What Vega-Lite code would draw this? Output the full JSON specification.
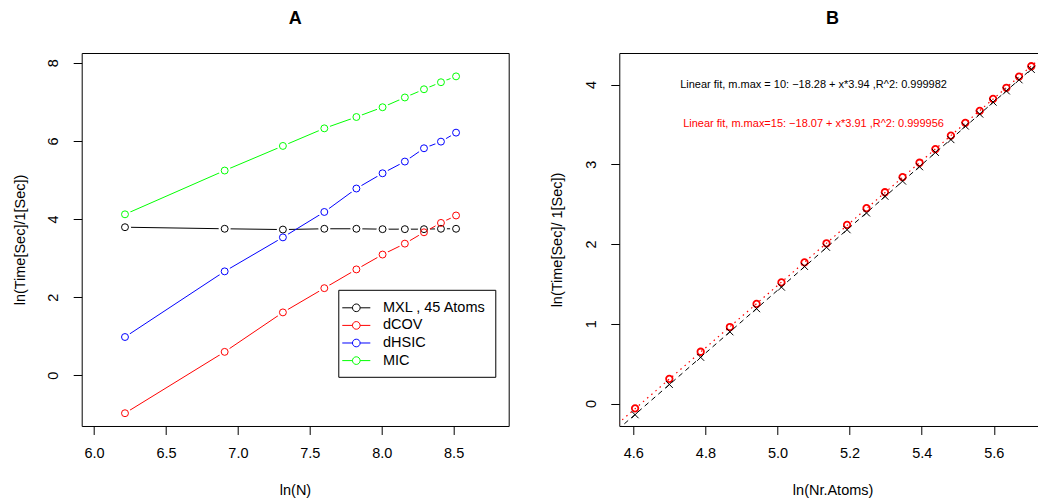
{
  "$schema": "https://vega.github.io/schema/vega-lite/v6.json",
  "padding": {"left": 11.7, "top": 9, "right": 0, "bottom": 0},
  "background": "white",
  "spacing": 39.6,
  "resolve": {"scale": {"color": "independent"}, "legend": {"color": "independent"}},
  "datasets": {
    "a": [
      {"method": "MXL , 45 Atoms", "lnN": 6.215, "time": 3.79},
      {"method": "MXL , 45 Atoms", "lnN": 6.908, "time": 3.75},
      {"method": "MXL , 45 Atoms", "lnN": 7.313, "time": 3.73},
      {"method": "MXL , 45 Atoms", "lnN": 7.601, "time": 3.75},
      {"method": "MXL , 45 Atoms", "lnN": 7.824, "time": 3.75},
      {"method": "MXL , 45 Atoms", "lnN": 8.006, "time": 3.74},
      {"method": "MXL , 45 Atoms", "lnN": 8.161, "time": 3.74},
      {"method": "MXL , 45 Atoms", "lnN": 8.294, "time": 3.74},
      {"method": "MXL , 45 Atoms", "lnN": 8.412, "time": 3.75},
      {"method": "MXL , 45 Atoms", "lnN": 8.517, "time": 3.75},
      {"method": "dCOV", "lnN": 6.215, "time": -0.97},
      {"method": "dCOV", "lnN": 6.908, "time": 0.60},
      {"method": "dCOV", "lnN": 7.313, "time": 1.61},
      {"method": "dCOV", "lnN": 7.601, "time": 2.23},
      {"method": "dCOV", "lnN": 7.824, "time": 2.71},
      {"method": "dCOV", "lnN": 8.006, "time": 3.09},
      {"method": "dCOV", "lnN": 8.161, "time": 3.37},
      {"method": "dCOV", "lnN": 8.294, "time": 3.66},
      {"method": "dCOV", "lnN": 8.412, "time": 3.90},
      {"method": "dCOV", "lnN": 8.517, "time": 4.09},
      {"method": "dHSIC", "lnN": 6.215, "time": 0.98},
      {"method": "dHSIC", "lnN": 6.908, "time": 2.66},
      {"method": "dHSIC", "lnN": 7.313, "time": 3.53},
      {"method": "dHSIC", "lnN": 7.601, "time": 4.18},
      {"method": "dHSIC", "lnN": 7.824, "time": 4.78},
      {"method": "dHSIC", "lnN": 8.006, "time": 5.17},
      {"method": "dHSIC", "lnN": 8.161, "time": 5.47},
      {"method": "dHSIC", "lnN": 8.294, "time": 5.81},
      {"method": "dHSIC", "lnN": 8.412, "time": 5.98},
      {"method": "dHSIC", "lnN": 8.517, "time": 6.21},
      {"method": "MIC", "lnN": 6.215, "time": 4.12},
      {"method": "MIC", "lnN": 6.908, "time": 5.24},
      {"method": "MIC", "lnN": 7.313, "time": 5.87},
      {"method": "MIC", "lnN": 7.601, "time": 6.32},
      {"method": "MIC", "lnN": 7.824, "time": 6.61},
      {"method": "MIC", "lnN": 8.006, "time": 6.86},
      {"method": "MIC", "lnN": 8.161, "time": 7.11},
      {"method": "MIC", "lnN": 8.294, "time": 7.32},
      {"method": "MIC", "lnN": 8.412, "time": 7.50},
      {"method": "MIC", "lnN": 8.517, "time": 7.65}
    ],
    "b": [
      {"lnAtoms": 4.605, "t10": -0.14, "t15": -0.06},
      {"lnAtoms": 4.700, "t10": 0.24, "t15": 0.31},
      {"lnAtoms": 4.787, "t10": 0.58, "t15": 0.65},
      {"lnAtoms": 4.868, "t10": 0.90, "t15": 0.96},
      {"lnAtoms": 4.942, "t10": 1.19, "t15": 1.25},
      {"lnAtoms": 5.011, "t10": 1.46, "t15": 1.52},
      {"lnAtoms": 5.075, "t10": 1.72, "t15": 1.77},
      {"lnAtoms": 5.136, "t10": 1.96, "t15": 2.01},
      {"lnAtoms": 5.193, "t10": 2.18, "t15": 2.24},
      {"lnAtoms": 5.247, "t10": 2.39, "t15": 2.45},
      {"lnAtoms": 5.298, "t10": 2.60, "t15": 2.65},
      {"lnAtoms": 5.347, "t10": 2.79, "t15": 2.84},
      {"lnAtoms": 5.394, "t10": 2.97, "t15": 3.02},
      {"lnAtoms": 5.438, "t10": 3.15, "t15": 3.19},
      {"lnAtoms": 5.481, "t10": 3.31, "t15": 3.36},
      {"lnAtoms": 5.521, "t10": 3.48, "t15": 3.52},
      {"lnAtoms": 5.561, "t10": 3.63, "t15": 3.67},
      {"lnAtoms": 5.598, "t10": 3.78, "t15": 3.82},
      {"lnAtoms": 5.635, "t10": 3.92, "t15": 3.96},
      {"lnAtoms": 5.670, "t10": 4.06, "t15": 4.10},
      {"lnAtoms": 5.704, "t10": 4.19, "t15": 4.23}
    ],
    "fits": [
      {"fit": "m.max=10", "x": 4.5, "y": -0.55},
      {"fit": "m.max=10", "x": 5.8, "y": 4.572},
      {"fit": "m.max=15", "x": 4.5, "y": -0.475},
      {"fit": "m.max=15", "x": 5.8, "y": 4.608}
    ],
    "notes": [
      {"fit": "m.max=10", "x": 5.1, "y": 4.0, "label": "Linear fit, m.max = 10: \u221218.28 + x*3.94 ,R^2: 0.999982"},
      {"fit": "m.max=15", "x": 5.1, "y": 3.5, "label": "Linear fit, m.max=15: \u221218.07 + x*3.91 ,R^2: 0.999956"}
    ]
  },
  "config": {
    "font": "Liberation Sans",
    "view": {"stroke": null},
    "axis": {
      "grid": false,
      "domainColor": "black",
      "domainWidth": 1,
      "tickColor": "black",
      "tickWidth": 1,
      "tickSize": 8.5,
      "labelColor": "black",
      "labelFont": "Liberation Sans",
      "labelFontSize": 14.5,
      "titleFont": "Liberation Sans",
      "titleFontSize": 14.5,
      "titleFontWeight": "normal",
      "titleColor": "black",
      "labelFlush": false,
      "labelOverlap": false
    }
  },
  "hconcat": [
    {
      "width": 427,
      "height": 373,
      "title": {"text": "A", "fontSize": 18, "fontWeight": "bold", "font": "Liberation Sans", "color": "black", "offset": 11.2, "baseline": "alphabetic", "anchor": "middle"},
      "view": {"stroke": "black", "strokeWidth": 1},
      "data": {"name": "a"},
      "encoding": {
        "x": {
          "field": "lnN", "type": "quantitative",
          "scale": {"domain": [5.914, 8.883], "nice": false, "zero": false},
          "axis": {"values": [6, 6.5, 7, 7.5, 8, 8.5], "format": ".1f", "title": "ln(N)", "domain": false,
                   "labelPadding": 18.8, "labelBaseline": "middle",
                   "titleX": 213.3, "titleY": 64.3, "titleBaseline": "middle", "titleAlign": "center"}
        },
        "y": {
          "field": "time", "type": "quantitative",
          "scale": {"domain": [-1.297, 8.248], "nice": false, "zero": false},
          "axis": {"values": [0, 2, 4, 6, 8], "format": "d", "title": "ln(Time[Sec]/1[Sec])", "domain": false,
                   "labelAngle": -90, "labelAlign": "center", "labelBaseline": "middle", "labelPadding": 19.5,
                   "titleX": -61.5, "titleY": 186.5, "titleAngle": -90, "titleBaseline": "middle", "titleAlign": "center"}
        }
      },
      "layer": [
        {
          "mark": {"type": "line", "strokeWidth": 1, "clip": true},
          "encoding": {
            "color": {
              "field": "method", "type": "nominal",
              "scale": {"domain": ["MXL , 45 Atoms", "dCOV", "dHSIC", "MIC"], "range": ["#000000", "#FF0000", "#0000FF", "#00FF00"]},
              "legend": {
                "orient": "none", "legendX": 256.6, "legendY": 236.8, "title": null,
                "strokeColor": "black", "fillColor": "white", "padding": 9,
                "symbolType": "M-1.65,0L-0.45,0M0.45,0L1.65,0M0.45,0A0.45,0.45,0,1,1,-0.45,0A0.45,0.45,0,1,1,0.45,0",
                "symbolSize": 289, "symbolStrokeWidth": 1, "symbolFillColor": "white",
                "labelOffset": 17.7, "rowPadding": 1.6,
                "labelFontSize": 14.5, "labelFont": "Liberation Sans", "labelColor": "black", "labelLimit": 300
              }
            }
          }
        },
        {
          "mark": {"type": "point", "shape": "circle", "filled": true, "color": "white", "opacity": 1, "size": 145, "clip": true}
        },
        {
          "mark": {"type": "point", "shape": "circle", "filled": false, "size": 48, "strokeWidth": 1, "opacity": 1, "clip": true},
          "encoding": {
            "color": {
              "field": "method", "type": "nominal",
              "scale": {"domain": ["MXL , 45 Atoms", "dCOV", "dHSIC", "MIC"], "range": ["#000000", "#FF0000", "#0000FF", "#00FF00"]},
              "legend": {
                "orient": "none", "legendX": 256.6, "legendY": 236.8, "title": null,
                "strokeColor": "black", "fillColor": "white", "padding": 9,
                "symbolType": "M-1.65,0L-0.45,0M0.45,0L1.65,0M0.45,0A0.45,0.45,0,1,1,-0.45,0A0.45,0.45,0,1,1,0.45,0",
                "symbolSize": 289, "symbolStrokeWidth": 1, "symbolFillColor": "white",
                "labelOffset": 17.7, "rowPadding": 1.6,
                "labelFontSize": 14.5, "labelFont": "Liberation Sans", "labelColor": "black", "labelLimit": 300
              }
            }
          }
        }
      ]
    },
    {
      "width": 419,
      "height": 373,
      "title": {"text": "B", "fontSize": 18, "fontWeight": "bold", "font": "Liberation Sans", "color": "black", "offset": 11.2, "baseline": "alphabetic", "anchor": "middle", "dx": 3.8},
      "layer": [
        {
          "data": {"name": "fits"},
          "transform": [{"filter": "datum.fit == 'm.max=15'"}],
          "mark": {"type": "line", "color": "#FF0000", "strokeDash": [1.5, 4], "strokeWidth": 1.2, "clip": true},
          "encoding": {
            "x": {"field": "x", "type": "quantitative",
                  "scale": {"domain": [4.5612, 5.7234], "nice": false, "zero": false},
                  "axis": {"values": [4.6, 4.8, 5.0, 5.2, 5.4, 5.6], "format": ".1f", "title": "ln(Nr.Atoms)", "domain": true,
                           "labelPadding": 18.8, "labelBaseline": "middle",
                           "titleX": 213.3, "titleY": 64.3, "titleBaseline": "middle", "titleAlign": "center"}},
            "y": {"field": "y", "type": "quantitative",
                  "scale": {"domain": [-0.281, 4.396], "nice": false, "zero": false},
                  "axis": {"values": [0, 1, 2, 3, 4], "format": "d", "title": "ln(Time[Sec]/ 1[Sec])", "domain": true,
                           "labelAngle": -90, "labelAlign": "center", "labelBaseline": "middle", "labelPadding": 19,
                           "titleX": -61.5, "titleY": 186.5, "titleAngle": -90, "titleBaseline": "middle", "titleAlign": "center"}}
          }
        },
        {
          "data": {"name": "fits"},
          "transform": [{"filter": "datum.fit == 'm.max=10'"}],
          "mark": {"type": "line", "color": "#000000", "strokeDash": [5, 4], "strokeWidth": 1, "clip": true},
          "encoding": {
            "x": {"field": "x", "type": "quantitative", "axis": null},
            "y": {"field": "y", "type": "quantitative", "title": "ln(Time[Sec]/ 1[Sec])"}
          }
        },
        {
          "data": {"name": "b"},
          "mark": {"type": "point", "shape": "circle", "filled": false, "color": "#FF0000", "strokeWidth": 1.8, "size": 42, "opacity": 1, "clip": true},
          "encoding": {
            "x": {"field": "lnAtoms", "type": "quantitative", "axis": null},
            "y": {"field": "t15", "type": "quantitative", "title": "ln(Time[Sec]/ 1[Sec])"}
          }
        },
        {
          "data": {"name": "b"},
          "mark": {"type": "point", "shape": "M-1,-1L1,1M-1,1L1,-1", "filled": false, "color": "#000000", "strokeWidth": 1, "size": 49, "opacity": 1, "clip": true},
          "encoding": {
            "x": {"field": "lnAtoms", "type": "quantitative", "axis": null},
            "y": {"field": "t10", "type": "quantitative", "title": "ln(Time[Sec]/ 1[Sec])"}
          }
        },
        {
          "data": {"name": "notes"},
          "mark": {"type": "text", "fontSize": 11, "font": "Liberation Sans", "align": "center", "baseline": "middle"},
          "encoding": {
            "x": {"field": "x", "type": "quantitative",
                  "axis": {"orient": "top", "labels": false, "ticks": false, "title": null, "domain": true, "domainColor": "black"}},
            "y": {"field": "y", "type": "quantitative", "title": "ln(Time[Sec]/ 1[Sec])"},
            "text": {"field": "label"},
            "color": {"field": "fit", "type": "nominal", "scale": {"domain": ["m.max=10", "m.max=15"], "range": ["#000000", "#FF0000"]}, "legend": null}
          }
        }
      ],
      "resolve": {"axis": {"x": "independent"}}
    }
  ]
}
